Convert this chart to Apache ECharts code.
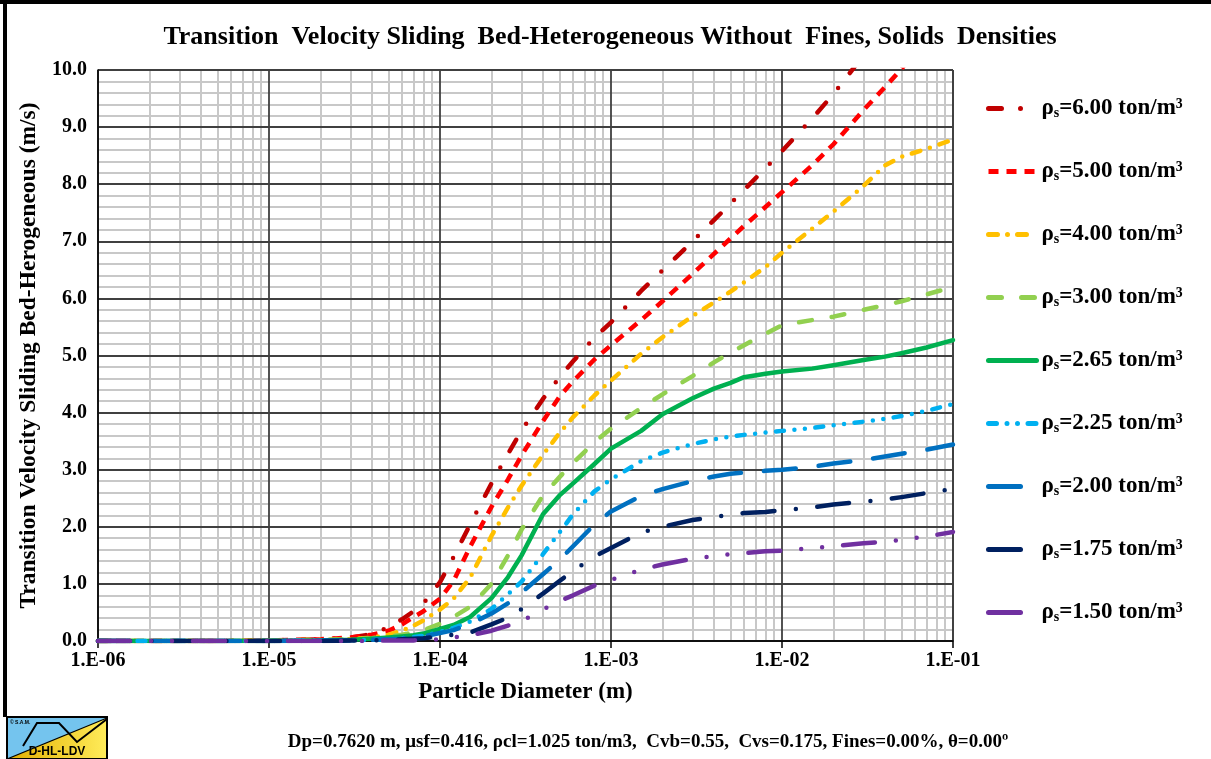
<!DOCTYPE html>
<html><head><meta charset="utf-8">
<script src="https://cdn.jsdelivr.net/npm/echarts@6/dist/echarts.min.js"></script>
<style>html,body{margin:0;padding:0;background:#fff}#c{width:1211px;height:759px}</style>
</head><body><div id="c"></div>
<script>
// Particle diameter (m)
const diameters = [1e-6, 2e-6, 5e-6, 1e-5, 2e-5, 3e-5, 4e-5, 5e-5, 6e-5, 7e-5, 8e-5,
  1e-4, 1.2e-4, 1.5e-4, 2e-4, 2.5e-4, 3e-4, 4e-4, 5e-4, 6e-4, 8e-4,
  1e-3, 1.5e-3, 2e-3, 3e-3, 4e-3, 5e-3, 6e-3, 8e-3,
  1e-2, 1.5e-2, 2e-2, 3e-2, 4e-2, 5e-2, 7e-2, 1e-1];
// Transition velocity (m/s) per solids density
const rho600 = [0,0,0,0.01,0.03,0.06,0.12,0.24,0.38,0.52,0.66,1.03,1.47,2.04,2.76,3.28,3.69,4.24,4.62,4.90,5.31,5.58,6.13,6.49,7.00,7.37,7.66,7.90,8.28,8.58,9.15,9.58,10.26,null,null,null,null];
const rho500 = [0,0,0,0.01,0.03,0.06,0.11,0.18,0.29,0.42,0.52,0.74,1.05,1.65,2.35,2.83,3.25,3.85,4.28,4.55,4.93,5.18,5.62,5.95,6.43,6.78,7.05,7.27,7.60,7.86,8.33,8.70,9.30,9.70,10.02,10.6,null];
const rho400 = [0,0,0,0.01,0.02,0.03,0.06,0.11,0.18,0.27,0.36,0.55,0.74,1.11,1.84,2.34,2.72,3.26,3.64,3.92,4.30,4.56,5.03,5.32,5.69,5.93,6.12,6.28,6.55,6.80,7.22,7.52,7.97,8.33,8.48,8.62,8.78];
const rho300 = [0,0,0,0.01,0.02,0.03,0.05,0.08,0.11,0.15,0.19,0.30,0.42,0.60,1.00,1.50,1.95,2.55,2.87,3.12,3.48,3.72,4.08,4.32,4.64,4.88,5.05,5.18,5.38,5.53,5.62,5.68,5.80,5.88,5.95,6.07,6.20];
const rho265 = [0,0,0,0,0.01,0.02,0.04,0.06,0.08,0.10,0.13,0.21,0.28,0.42,0.75,1.12,1.50,2.22,2.55,2.76,3.10,3.37,3.68,3.97,4.25,4.42,4.52,4.62,4.68,4.72,4.77,4.83,4.92,4.98,5.04,5.14,5.27];
const rho225 = [0,0,0,0,0.01,0.01,0.02,0.03,0.05,0.07,0.09,0.16,0.23,0.34,0.56,0.82,1.04,1.52,1.90,2.22,2.62,2.83,3.15,3.30,3.45,3.53,3.58,3.61,3.65,3.68,3.73,3.78,3.84,3.89,3.94,4.03,4.15];
const rho200 = [0,0,0,0,0.01,0.01,0.02,0.03,0.04,0.06,0.08,0.14,0.19,0.30,0.48,0.66,0.85,1.17,1.42,1.66,2.04,2.27,2.54,2.66,2.80,2.88,2.93,2.95,2.98,3.00,3.05,3.11,3.17,3.23,3.28,3.35,3.44];
const rho175 = [0,0,0,0,0,0.01,0.01,0.02,0.03,0.04,0.05,0.08,0.11,0.15,0.29,0.41,0.56,0.83,1.05,1.23,1.48,1.63,1.90,2.00,2.12,2.17,2.21,2.24,2.26,2.29,2.34,2.39,2.44,2.48,2.52,2.59,2.66];
const rho150 = [0,0,0,0,0,0,0,0.01,0.01,0.01,0.02,0.03,0.06,0.10,0.18,0.27,0.35,0.55,0.70,0.80,0.97,1.07,1.25,1.34,1.44,1.49,1.52,1.54,1.57,1.58,1.63,1.66,1.71,1.74,1.77,1.83,1.91];

const densityLabels = ['6.00','5.00','4.00','3.00','2.65','2.25','2.00','1.75','1.50'];
const seriesValues = [rho600, rho500, rho400, rho300, rho265, rho225, rho200, rho175, rho150];
const colors = ['#C00000','#FF0000','#FFC000','#92D050','#00B050','#00B0F0','#0070C0','#002060','#7030A0'];
const dashes = [
  [13, 19, 0, 19],
  [10, 8],
  [9, 10, 0, 10],
  [13, 20],
  'solid',
  [8, 10.5, 0, 10.5, 0, 10.5],
  [32, 23],
  [32, 21.5, 0, 21.5],
  [32, 21, 0, 21, 0, 21]
];
const caps = ['round','butt','round','round','round','round','round','round','round'];

const SERIF = '"Liberation Serif","Times New Roman",serif';
const names = densityLabels.map(d => 'ρs=' + d + ' ton/m³');

// minor vertical grid lines at 2..9 of each decade
const minorX = [];
for (let e = -6; e < -1; e++) for (let m = 2; m <= 9; m++) {
  const x = m * Math.pow(10, e);
  minorX.push([{coord: [x, 0]}, {coord: [x, 10]}]);
}

const series = seriesValues.map((vals, i) => ({
  name: names[i],
  type: 'line',
  data: diameters.map((d, j) => [d, vals[j]]),
  symbol: 'none',
  smooth: false,
  clip: true,
  z: 3 + i * 0.01,
  lineStyle: {color: colors[i], width: 4.5, type: dashes[i], cap: caps[i], join: 'round'},
  itemStyle: {color: colors[i]},
  emphasis: {disabled: true}
}));
series.push({
  name: 'minorgrid', type: 'line', data: [[1e-6, 0], [1e-1, 0]], symbol: 'none', silent: true,
  lineStyle: {opacity: 0},
  markLine: {
    z: -1, silent: true, symbol: ['none','none'], label: {show: false}, precision: 12,
    lineStyle: {type: 'solid', color: '#c8c8c8', width: 2},
    emphasis: {disabled: true},
    animation: false,
    data: minorX
  }
});

function fmtX(v) {
  const e = Math.round(Math.log10(v));
  return '1.E' + (e < 0 ? '-' : '+') + String(Math.abs(e)).padStart(2, '0');
}

const chart = echarts.init(document.getElementById('c'), null, {renderer: 'canvas'});
chart.setOption({
  animation: false,
  backgroundColor: '#fff',
  grid: {left: 98, right: 258, top: 70, bottom: 118, containLabel: false},
  xAxis: {
    type: 'log', logBase: 10, min: 1e-6, max: 1e-1,
    name: 'Particle Diameter (m)', nameLocation: 'middle', nameGap: 40,
    nameTextStyle: {fontFamily: SERIF, fontWeight: 'bold', fontSize: 23, color: '#000'},
    axisLine: {show: true, lineStyle: {color: '#000', width: 1.5}},
    axisTick: {show: true, length: 7, lineStyle: {color: '#000', width: 1.5}},
    axisLabel: {formatter: fmtX, fontFamily: SERIF, fontWeight: 'bold', fontSize: 20, color: '#000', margin: 10},
    splitLine: {show: true, lineStyle: {color: '#404040', width: 1.8}},
    minorTick: {show: false}, minorSplitLine: {show: false}
  },
  yAxis: {
    type: 'value', min: 0, max: 10, interval: 1,
    name: 'Transition Velocity Sliding Bed-Herogeneous (m/s)', nameLocation: 'middle', nameGap: 56, nameRotate: 90,
    nameTextStyle: {fontFamily: SERIF, fontWeight: 'bold', fontSize: 23.5, color: '#000'},
    axisLine: {show: true, lineStyle: {color: '#000', width: 1.5}},
    axisTick: {show: false},
    axisLabel: {formatter: v => v.toFixed(1), fontFamily: SERIF, fontWeight: 'bold', fontSize: 20, color: '#000', margin: 11},
    splitLine: {show: true, lineStyle: {color: '#404040', width: 1.8}},
    minorTick: {show: false, splitNumber: 5},
    minorSplitLine: {show: true, lineStyle: {color: '#c8c8c8', width: 2}}
  },
  legend: {
    data: names, orient: 'vertical', left: 981, top: 92,
    itemWidth: 48, itemHeight: 14, itemGap: 40,
    selectedMode: false,
    itemStyle: {opacity: 0, borderWidth: 0},
    lineStyle: {opacity: 1, width: 5},
    formatter: n => '{r|ρ}{s|s}{t|' + n.slice(2) + '}',
    textStyle: {
      fontFamily: SERIF, fontWeight: 'bold', fontSize: 23, color: '#000',
      rich: {
        r: {fontFamily: SERIF, fontWeight: 'bold', fontSize: 23, lineHeight: 23},
        s: {fontFamily: SERIF, fontWeight: 'bold', fontSize: 14, lineHeight: 23, verticalAlign: 'bottom', padding: [8, 0, 0, 0]},
        t: {fontFamily: SERIF, fontWeight: 'bold', fontSize: 23, lineHeight: 23}
      }
    }
  },
  graphic: [
    {type: 'text', x: 610, y: 37, style: {text: 'Transition  Velocity Sliding  Bed-Heterogeneous Without  Fines, Solids  Densities', font: 'bold 26px ' + SERIF, fill: '#000', align: 'center', verticalAlign: 'middle'}},
    {type: 'text', x: 648, y: 742, style: {text: 'Dp=0.7620 m, μsf=0.416, ρcl=1.025 ton/m3,  Cvb=0.55,  Cvs=0.175, Fines=0.00%, θ=0.00º', font: 'bold 19px ' + SERIF, fill: '#000', align: 'center', verticalAlign: 'middle'}},
    {type: 'line', shape: {x1: 0, y1: 2, x2: 1211, y2: 2}, style: {stroke: '#000', lineWidth: 4}},
    {type: 'line', shape: {x1: 5, y1: 0, x2: 5, y2: 717}, style: {stroke: '#000', lineWidth: 4}},
    {type: 'group', x: 7, y: 717, children: [
      {type: 'rect', shape: {x: 0, y: 0, width: 100, height: 42}, style: {fill: new echarts.graphic.LinearGradient(0, 0, 1, 0, [{offset: 0, color: '#E2AE00'}, {offset: 1, color: '#FFEC5A'}])}},
      {type: 'polygon', shape: {points: [[0, 0], [100, 0], [100, 1], [0, 42]]}, style: {fill: '#74C4EE'}},
      {type: 'line', shape: {x1: 0, y1: 42, x2: 100, y2: 1}, style: {stroke: '#000', lineWidth: 1.2}},
      {type: 'polyline', shape: {points: [[16, 29], [30, 6], [52, 6], [70, 25], [100, 2]]}, style: {stroke: '#000', lineWidth: 2, fill: null}},
      {type: 'rect', shape: {x: 0, y: 0, width: 100, height: 42}, style: {fill: null, stroke: '#000', lineWidth: 2}},
      {type: 'text', x: 3, y: 3, style: {text: '© S.A.M.', font: 'bold 5px "Liberation Sans",Arial,sans-serif', fill: '#000'}},
      {type: 'text', x: 50, y: 35, style: {text: 'D-HL-LDV', font: 'bold 12px "Liberation Sans",Arial,sans-serif', fill: '#000', align: 'center', verticalAlign: 'middle'}}
    ]}
  ],
  series: series
});
</script>
</body></html>
